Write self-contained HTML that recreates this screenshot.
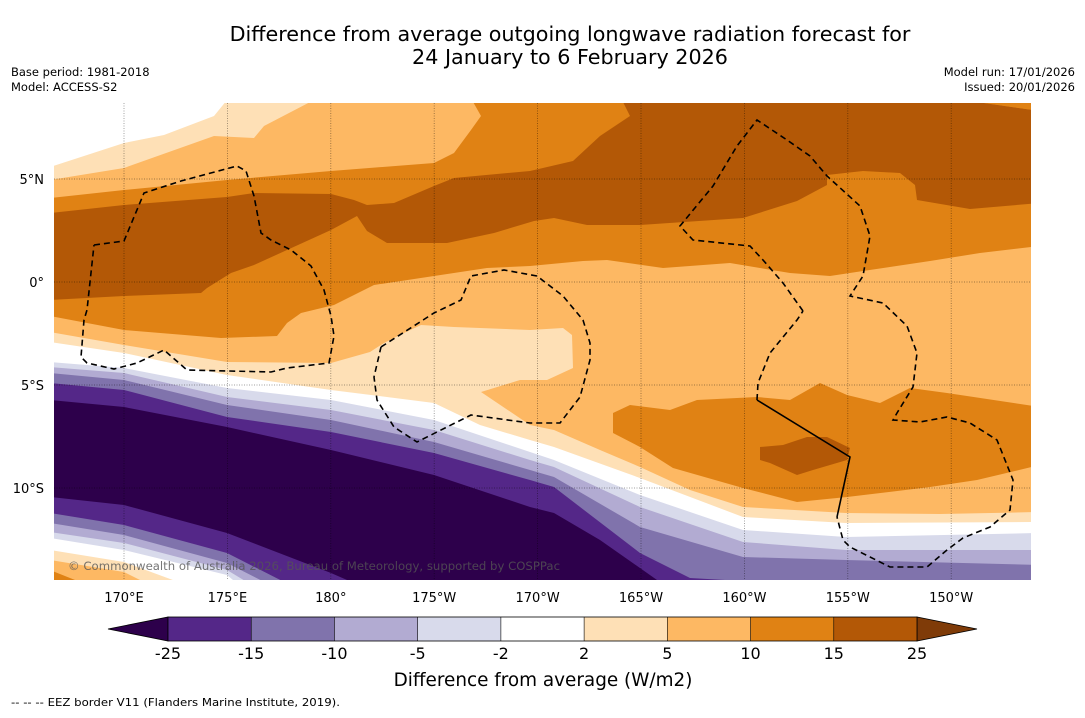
<!DOCTYPE html>
<html><head><meta charset="utf-8">
<style>
body{margin:0;background:#fff;width:1085px;height:713px;overflow:hidden;font-family:"Liberation Sans","DejaVu Sans",sans-serif;}
svg text{font-family:"DejaVu Sans","Liberation Sans",sans-serif;}
</style></head>
<body>
<svg id="chart" width="1085" height="713" xmlns="http://www.w3.org/2000/svg">
<defs><clipPath id="pc"><rect x="54" y="103" width="977" height="477"/></clipPath></defs>
<text x="570" y="41" font-size="20.7" text-anchor="middle">Difference from average outgoing longwave radiation forecast for</text>
<text x="570" y="64" font-size="20.7" text-anchor="middle">24 January to 6 February 2026</text>
<text x="11" y="76" font-size="11.5">Base period: 1981-2018</text>
<text x="11" y="91" font-size="11.5">Model: ACCESS-S2</text>
<text x="1075" y="76" font-size="11.5" text-anchor="end">Model run: 17/01/2026</text>
<text x="1075" y="91" font-size="11.5" text-anchor="end">Issued: 20/01/2026</text>
<g id="map" clip-path="url(#pc)"></g>
<g id="axes"></g>
<g id="cbar"></g>
<text x="543" y="686" font-size="18.4" text-anchor="middle">Difference from average (W/m2)</text>
<text x="11" y="706" font-size="11" textLength="329" lengthAdjust="spacingAndGlyphs">--  --  -- EEZ border V11 (Flanders Marine Institute, 2019).</text>
</svg>
<script>
// colour scale data
const levels=[-25,-15,-10,-5,-2,2,5,10,15,25];
const colors=['#2d004b','#542788','#8073ac','#b2abd2','#d8daeb','#ffffff','#fee0b6','#fdb863','#e08214','#b35806'];
const extendLow='#2d004b', extendHigh='#7f3b08';
// axis ticks
const lonTicks=[170,175,180,185,190,195,200,205,210];
const lonLabels=['170°E','175°E','180°','175°W','170°W','165°W','160°W','155°W','150°W'];
const latTicks=[5,0,-5,-10];
const latLabels=['5°N','0°','5°S','10°S'];
// projection
const X=lon=>124+(lon-170)*20.68;
const Y=lat=>282-lat*20.6;
const NS='http://www.w3.org/2000/svg';
const map=document.getElementById('map'),axes=document.getElementById('axes'),cbar=document.getElementById('cbar');
function mk(tag,attrs,parent){const e=document.createElementNS(NS,tag);for(const k in attrs)e.setAttribute(k,attrs[k]);parent.appendChild(e);return e;}
// contour regions (screen-traced outlines, projected plot space)
const regions=[
 ['base-fill',7,[[50,100],[1040,100],[1040,600],[50,600]]],
 ['pale-north',6,[[50,100],[314,100],[264,126],[254,138],[214,136],[124,168],[50,180]]],
 ['white-north',5,[[50,100],[227,100],[214,116],[164,135],[124,143],[50,167]]],
 ['orange-north-band',8,[[50,198],[124,190],[227,180],[331,171],[434,163],[454,153],[471,130],[481,116],[472,100],[1040,100],[1040,246],[980,253],[930,261],[863,271],[830,276],[790,273],[730,263],[663,268],[607,260],[583,261],[530,266],[487,268],[434,276],[374,285],[334,305],[301,313],[287,323],[277,336],[221,338],[124,330],[50,316]]],
 ['brown-north-band',9,[[50,213],[124,205],[227,197],[254,193],[331,194],[354,200],[367,205],[394,203],[434,186],[454,178],[530,171],[573,161],[600,136],[630,116],[622,100],[963,100],[1040,111],[1040,203],[970,209],[917,200],[915,185],[900,173],[863,171],[827,175],[827,185],[797,201],[743,218],[640,225],[587,225],[554,218],[534,221],[494,233],[447,243],[387,243],[367,231],[357,216],[331,230],[287,250],[254,265],[231,273],[207,288],[201,293],[124,296],[50,300]]],
 ['pale-south',6,[[50,332],[124,345],[227,362],[331,363],[370,352],[384,343],[404,333],[421,325],[454,327],[530,330],[563,328],[572,335],[573,368],[547,380],[520,380],[481,392],[530,425],[554,430],[600,450],[640,467],[690,490],[743,507],[846,513],[940,514],[1040,512],[1040,620],[50,620]]],
 ['white-south',5,[[50,342],[124,353],[227,375],[331,390],[434,403],[480,425],[530,440],[554,447],[640,478],[743,517],[846,523],[1040,522],[1040,620],[50,620]]],
 ['lavender-1',4,[[50,362],[124,368],[227,388],[331,400],[434,420],[530,452],[554,460],[640,495],[743,530],[846,537],[1040,533],[1040,620],[50,620]]],
 ['lavender-2',3,[[50,367],[124,373],[227,397],[331,410],[434,430],[530,460],[554,467],[640,507],[743,542],[846,550],[1040,550],[1040,620],[50,620]]],
 ['purple-mid',2,[[50,373],[124,380],[227,405],[331,420],[434,442],[530,470],[554,477],[640,527],[743,557],[846,560],[1040,565],[1040,620],[50,620]]],
 ['purple-deep',1,[[50,383],[124,390],[227,417],[331,432],[434,453],[530,480],[554,487],[640,553],[690,578],[760,582],[770,620],[50,620]]],
 ['purple-darkest',0,[[50,400],[124,407],[227,427],[331,450],[434,475],[530,507],[554,513],[600,540],[657,580],[680,620],[50,620]]],
 ['orange-south-island',8,[[613,413],[630,405],[670,410],[697,400],[757,397],[790,400],[820,383],[847,395],[880,403],[910,388],[947,393],[1040,407],[1040,465],[977,480],[930,487],[847,497],[797,502],[743,488],[673,468],[640,447],[613,433]]],
 ['brown-south-island',9,[[760,447],[783,445],[807,437],[827,437],[850,448],[847,460],[813,470],[797,475],[770,463],[760,460]]],
 ['sw-purple',1,[[50,497],[124,505],[227,533],[331,573],[370,590],[50,590]]],
 ['sw-purple-mid',2,[[50,513],[124,525],[227,553],[300,590],[50,590]]],
 ['sw-lavender-2',3,[[50,523],[124,535],[227,563],[280,590],[50,590]]],
 ['sw-lavender-1',4,[[50,532],[124,543],[227,570],[260,590],[50,590]]],
 ['sw-white',5,[[50,538],[124,550],[227,575],[245,590],[50,590]]],
 ['sw-pale',6,[[50,550],[124,562],[200,590],[50,590]]],
 ['sw-light-orange',7,[[50,560],[124,572],[160,590],[50,590]]],
 ['sw-orange',8,[[50,570],[100,590],[50,590]]],
 ['ne-corner-orange',8,[[963,100],[1040,100],[1040,111]]]
];
regions.forEach(r=>{
 const p=mk('polygon',{points:r[2].map(q=>q.join(',')).join(' '),fill:colors[r[1]]},map);
 
 
});
// gridlines
lonTicks.forEach(l=>{const g=mk('line',{x1:X(l),x2:X(l),y1:103,y2:580,stroke:'#000','stroke-opacity':0.45,'stroke-width':0.8,'stroke-dasharray':'1,1.5'},map);
 
 });
latTicks.forEach(l=>{const g=mk('line',{x1:54,x2:1031,y1:Y(l),y2:Y(l),stroke:'#000','stroke-opacity':0.5,'stroke-width':0.8,'stroke-dasharray':'1,1.5'},map);
 
 });
// EEZ borders
const eez=[
 [[94,245],[124,241],[144,193],[181,181],[237,166],[246,171],[254,196],[261,233],[271,240],[291,250],[311,266],[324,290],[331,316],[334,336],[329,363],[287,368],[271,372],[187,370],[164,350],[137,363],[114,369],[87,363],[81,357],[84,320],[87,310],[94,245]],
 [[381,347],[434,313],[461,300],[471,276],[504,270],[537,276],[563,296],[583,320],[590,343],[590,360],[580,397],[560,423],[530,423],[471,415],[417,442],[394,427],[377,400],[374,377],[381,347]],
 [[757,400],[758,383],[770,353],[797,320],[803,311]],
 [[803,311],[783,283],[763,260],[750,246],[693,240],[680,226],[713,186],[737,146],[757,120],[787,140],[810,156],[827,176],[860,206],[870,236],[863,276],[850,296],[883,303],[907,326],[917,353],[913,387],[897,413],[893,420],[920,422],[947,417],[970,423],[997,440],[1013,480],[1010,510],[990,527],[963,538],[947,550],[927,567],[890,567],[850,547],[843,540],[837,517]]
];
eez.forEach(pts=>{const p=mk('polyline',{points:pts.map(q=>q.join(',')).join(' '),fill:'none',stroke:'#000','stroke-width':1.6,'stroke-dasharray':'6,4'},map);
 
 });
const sl=mk('polyline',{points:'757,400 850,457 837,517',fill:'none',stroke:'#000','stroke-width':1.6},map);


const cp=mk('text',{x:68,y:570,'font-size':11.8,fill:'#555','fill-opacity':0.8,textLength:492,lengthAdjust:'spacingAndGlyphs'},map);


cp.textContent='© Commonwealth of Australia 2026, Bureau of Meteorology, supported by COSPPac';
// axis labels
lonTicks.forEach((l,i)=>{const t=mk('text',{x:X(l),y:602,'font-size':13,'text-anchor':'middle'},axes);
 
 
 t.textContent=lonLabels[i];});
latTicks.forEach((l,i)=>{const t=mk('text',{x:44,y:Y(l)+5,'font-size':13,'text-anchor':'end'},axes);
 
 
 t.textContent=latLabels[i];});
// colorbar
const cx0=168,cx1=917,cy=617,ch=24,bw=(cx1-cx0)/(levels.length-1);
const lt=mk('polygon',{points:`${cx0},${cy} ${cx0},${cy+ch} 108,${cy+ch/2}`,fill:extendLow,stroke:'#000','stroke-width':0.8},cbar);


const rt=mk('polygon',{points:`${cx1},${cy} ${cx1},${cy+ch} 977,${cy+ch/2}`,fill:extendHigh,stroke:'#000','stroke-width':0.8},cbar);


for(let i=0;i<levels.length-1;i++){
 const b=mk('rect',{x:cx0+i*bw,y:cy,width:bw,height:ch,fill:colors[i+1]},cbar);
 
 
}
const ob=mk('rect',{x:cx0,y:cy,width:cx1-cx0,height:ch,fill:'none',stroke:'#000','stroke-width':0.8},cbar);


levels.forEach((v,i)=>{
 if(i>0&&i<levels.length-1){const d=mk('line',{x1:cx0+i*bw,x2:cx0+i*bw,y1:cy,y2:cy+ch,stroke:'#000','stroke-width':0.6},cbar);
  
  }
 const t=mk('text',{x:cx0+i*bw,y:659,'font-size':16,'text-anchor':'middle'},cbar);
 
 
 t.textContent=v;
});
</script>
</body></html>
